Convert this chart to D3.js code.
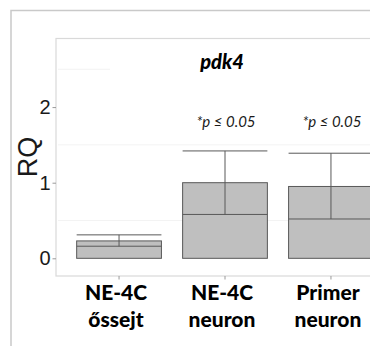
<!DOCTYPE html>
<html>
<head>
<meta charset="utf-8">
<script src="https://cdn.jsdelivr.net/npm/d3@7"></script>
<style>
    body { margin: 0; background: #fff; }
    #chart-area { width: 370px; height: 346px; }
</style>
</head>
<body>
<div id="chart-area"></div>
<script>

// data
let categories = [["NE-4C", "őssejt"], ["NE-4C", "neuron"], ["Primer", "neuron"]];
let rqValues = [0.23, 1.0, 0.95];
let lowerValues = [0.16, 0.58, 0.52];
let upperValues = [0.31, 1.42, 1.39];
let pLabels = ["", "*p \u2264 0.05", "*p \u2264 0.05"];
let yTicks = [0, 1, 2];
let minorGrid = [0.5, 1.5, 2.5];

class RQVis {

    constructor(_parentElement) {
        this.parentElement = _parentElement;
        this.initVis();
    }

    initVis() {
        let vis = this;

        vis.width = 370;
        vis.height = 346;

        vis.svg = d3.select(`#${vis.parentElement}`)
            .append("svg")
            .attr("width", vis.width)
            .attr("height", vis.height);

        // panel edges (right edge runs off the picture)
        vis.panel = {left: 56, top: 38.5, right: 394, bottom: 276};

        vis.x = d3.scaleBand()
            .domain(d3.range(categories.length))
            .range([vis.panel.left, vis.panel.right])
            .paddingInner(0.2)
            .paddingOuter(0.195);

        vis.y = d3.scaleLinear()
            .domain([-0.234, 2.907])
            .range([vis.panel.bottom, vis.panel.top]);

        vis.wrangleData();
    }

    wrangleData() {
        let vis = this;

        vis.displayData = categories.map((c, i) => ({
            idx: i,
            label: c,
            rq: rqValues[i],
            lower: lowerValues[i],
            upper: upperValues[i],
            p: pLabels[i]
        }));

        vis.updateVis();
    }

    updateVis() {
        let vis = this;
        let p = vis.panel;
        let bw = vis.x.bandwidth();

        // outer frame
        vis.svg.append("path")
            .attr("d", `M11,${vis.height} V10.5 H${vis.width}`)
            .attr("fill", "none")
            .attr("stroke", "#c9c9c9")
            .attr("stroke-width", 1.5);

        // panel border
        vis.svg.append("rect")
            .attr("x", p.left)
            .attr("y", p.top)
            .attr("width", p.right - p.left)
            .attr("height", p.bottom - p.top)
            .attr("fill", "#fff")
            .attr("stroke", "#d9d9d9")
            .attr("stroke-width", 1.2);

        // faint minor grid (top one is mostly hidden behind the title)
        vis.svg.append("g")
            .selectAll("line")
            .data(minorGrid)
            .enter()
            .append("line")
            .attr("x1", p.left + 2)
            .attr("x2", d => d > 2 ? 110 : p.right)
            .attr("y1", d => vis.y(d))
            .attr("y2", d => vis.y(d))
            .attr("stroke", "#f3f3f3")
            .attr("stroke-width", 1);

        // y axis
        let yAxis = d3.axisLeft(vis.y)
            .tickValues(yTicks)
            .tickFormat(d3.format("d"))
            .tickSize(3.5)
            .tickPadding(2);
        let yG = vis.svg.append("g")
            .attr("transform", `translate(${p.left},0)`)
            .call(yAxis);
        yG.select(".domain").remove();
        yG.selectAll(".tick line").attr("stroke", "#9a9a9a");
        yG.selectAll(".tick text")
            .attr("fill", "#1a1a1a")
            .style("font-family", "'Liberation Sans', Arial, sans-serif")
            .style("font-size", "20px");

        // x axis ticks
        let xAxis = d3.axisBottom(vis.x)
            .tickSize(3.5)
            .tickFormat("");
        let xG = vis.svg.append("g")
            .attr("transform", `translate(0,${p.bottom})`)
            .call(xAxis);
        xG.select(".domain").remove();
        xG.selectAll(".tick line").attr("stroke", "#9a9a9a");

        // bars
        let groups = vis.svg.append("g")
            .selectAll("g")
            .data(vis.displayData)
            .enter()
            .append("g");

        groups.append("rect")
            .attr("x", d => vis.x(d.idx))
            .attr("y", d => vis.y(d.rq))
            .attr("width", bw)
            .attr("height", d => vis.y(0) - vis.y(d.rq))
            .attr("fill", "#bfbfbf")
            .attr("stroke", "#595959")
            .attr("stroke-width", 1);

        // lower and upper whiskers span the whole bar, joined in the middle
        groups.each(function(d) {
            let g = d3.select(this);
            let x0 = vis.x(d.idx);
            g.selectAll("line.cap")
                .data([d.lower, d.upper])
                .enter()
                .append("line")
                .attr("class", "cap")
                .attr("x1", x0)
                .attr("x2", x0 + bw)
                .attr("y1", v => vis.y(v))
                .attr("y2", v => vis.y(v))
                .attr("stroke", "#595959")
                .attr("stroke-width", 1);
            g.append("line")
                .attr("x1", x0 + bw / 2)
                .attr("x2", x0 + bw / 2)
                .attr("y1", vis.y(d.lower))
                .attr("y2", vis.y(d.upper))
                .attr("stroke", "#595959")
                .attr("stroke-width", 1);
        });

        // significance labels
        groups.append("text")
            .attr("x", d => vis.x(d.idx) + bw / 2 + 1)
            .attr("y", 127)
            .attr("text-anchor", "middle")
            .style("font-family", "Lato, sans-serif")
            .style("font-style", "italic")
            .style("font-size", "15px")
            .attr("fill", "#1a1a1a")
            .text(d => d.p);

        // category labels, two lines
        let labels = groups.append("text")
            .attr("text-anchor", "middle")
            .style("font-family", "Lato, sans-serif")
            .style("font-weight", "900")
            .style("font-size", "21px")
            .attr("fill", "#000");
        labels.each(function(d) {
            d3.select(this).selectAll("tspan")
                .data(d.label)
                .enter()
                .append("tspan")
                .attr("x", vis.x(d.idx) + bw / 2 - 3)
                .attr("y", (t, j) => 300 + j * 27)
                .text(t => t);
        });

        // title
        vis.svg.append("text")
            .attr("x", 222)
            .attr("y", 69)
            .attr("text-anchor", "middle")
            .style("font-family", "Lato, sans-serif")
            .style("font-weight", "900")
            .style("font-style", "italic")
            .style("font-size", "20px")
            .text("pdk4");

        // y axis title
        vis.svg.append("text")
            .attr("transform", `translate(37,157) rotate(-90)`)
            .attr("text-anchor", "middle")
            .style("font-family", "'Liberation Sans', Arial, sans-serif")
            .style("font-size", "27px")
            .attr("fill", "#1a1a1a")
            .text("RQ");
    }
}

new RQVis("chart-area");

</script>
</body>
</html>
